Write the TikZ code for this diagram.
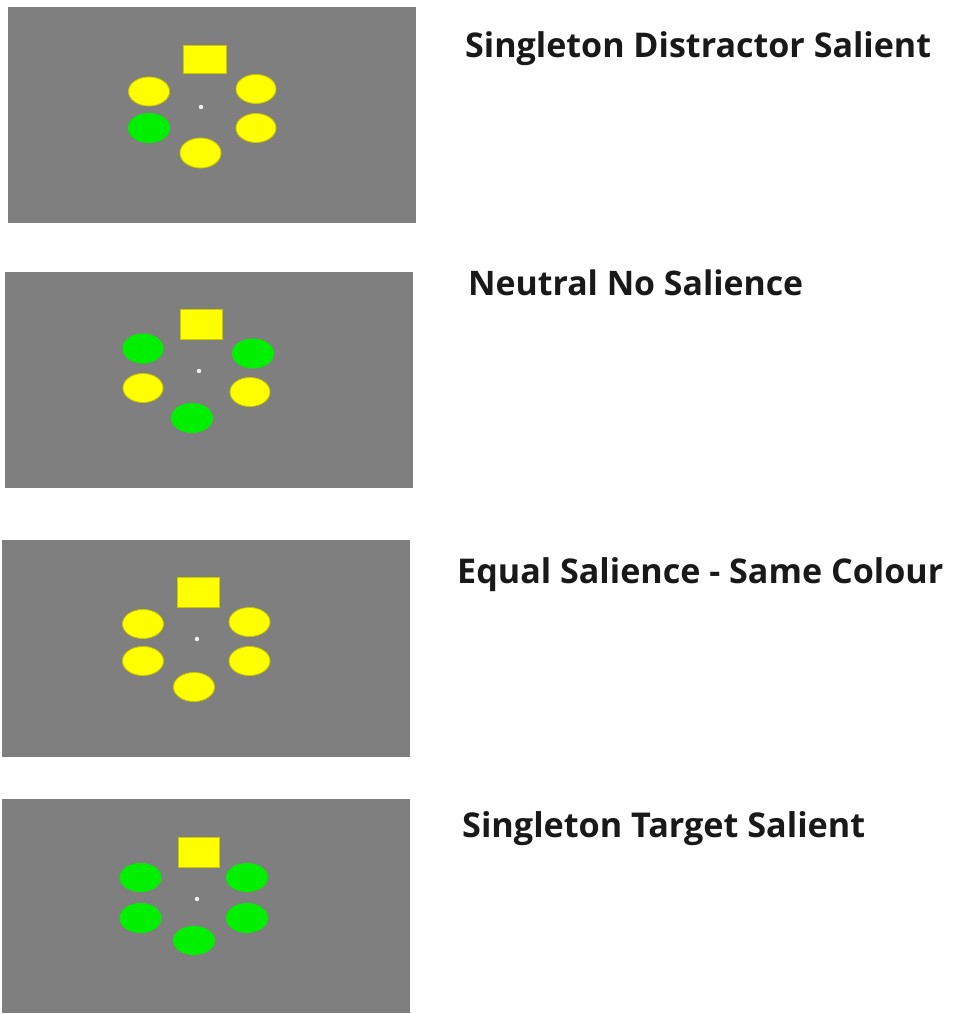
\documentclass[tikz,border=0pt]{standalone}
\usepackage{fontspec}
\setmainfont{Open Sans}
\usepackage{graphicx}
\definecolor{panelgray}{HTML}{7F7F7F}
\definecolor{stimyellow}{HTML}{FFFF00}
\definecolor{stimgreen}{HTML}{00F000}
\definecolor{yedge}{HTML}{C8C800}
\begin{document}
\begin{tikzpicture}[x=1pt,y=-1pt,
  panel/.style={fill=panelgray},
  ye/.style={fill=stimyellow,draw=yedge,line width=0.8pt},
  gr/.style={fill=stimgreen},
  sq/.style={fill=stimyellow,draw=yedge,line width=0.6pt},
  fixdot/.style={fill=white!90!gray},
  lbl/.style={anchor=base west,inner sep=0pt,font=\bfseries,text=black!90}]
\useasboundingbox (0,0) rectangle (953,1014);
\fill[white] (0,0) rectangle (953,1014);
% Panel 1
\fill[panel] (8,7) rectangle (416,223);
\filldraw[sq] (183,45) rectangle (226,73);
\filldraw[ye] (149,91.5) ellipse [x radius=20.5,y radius=14.5];
\filldraw[ye] (256,89) ellipse [x radius=20,y radius=14.5];
\fill[gr] (149,128) ellipse [x radius=21,y radius=15];
\filldraw[ye] (256,128) ellipse [x radius=20,y radius=14.5];
\filldraw[ye] (200.5,153) ellipse [x radius=20.5,y radius=15];
\fill[fixdot] (201,107) circle (2.2);
\node[lbl] (l1) at (465,58) {\resizebox{466pt}{!}{Singleton Distractor Salient}};
% Panel 2
\fill[panel] (5,272) rectangle (413,488);
\filldraw[sq] (180,309) rectangle (222,339);
\fill[gr] (143,348.5) ellipse [x radius=20.5,y radius=15];
\fill[gr] (253,353.5) ellipse [x radius=21,y radius=15];
\filldraw[ye] (143,388) ellipse [x radius=20,y radius=14.5];
\filldraw[ye] (250,392) ellipse [x radius=20,y radius=14.5];
\fill[gr] (192,418) ellipse [x radius=21,y radius=15];
\fill[fixdot] (199,371) circle (2.2);
\node[lbl] (l2) at (468,295) {\resizebox{335pt}{!}{Neutral No Salience}};
% Panel 3
\fill[panel] (2,540) rectangle (410,757);
\filldraw[sq] (177,577) rectangle (219,607);
\filldraw[ye] (143,624) ellipse [x radius=20.5,y radius=14.5];
\filldraw[ye] (249.5,622) ellipse [x radius=20.5,y radius=14.5];
\filldraw[ye] (143,661) ellipse [x radius=20.5,y radius=14.5];
\filldraw[ye] (249.5,661) ellipse [x radius=20.5,y radius=14.5];
\filldraw[ye] (194,687) ellipse [x radius=20.5,y radius=14.5];
\fill[fixdot] (197,639) circle (2.2);
\node[lbl] (l3) at (457,583) {\resizebox{486pt}{!}{Equal Salience - Same Colour}};
% Panel 4
\fill[panel] (2,799) rectangle (410,1013);
\filldraw[sq] (178,837) rectangle (219,867);
\fill[gr] (140.5,877.5) ellipse [x radius=21,y radius=14.5];
\fill[gr] (247,877.5) ellipse [x radius=21,y radius=14.5];
\fill[gr] (140.5,918) ellipse [x radius=21,y radius=15];
\fill[gr] (247,918) ellipse [x radius=21,y radius=15];
\fill[gr] (194,940.5) ellipse [x radius=21,y radius=14.5];
\fill[fixdot] (197,899) circle (2.2);
\node[lbl] (l4) at (462,837) {\resizebox{403pt}{!}{Singleton Target Salient}};
\end{tikzpicture}
\end{document}
